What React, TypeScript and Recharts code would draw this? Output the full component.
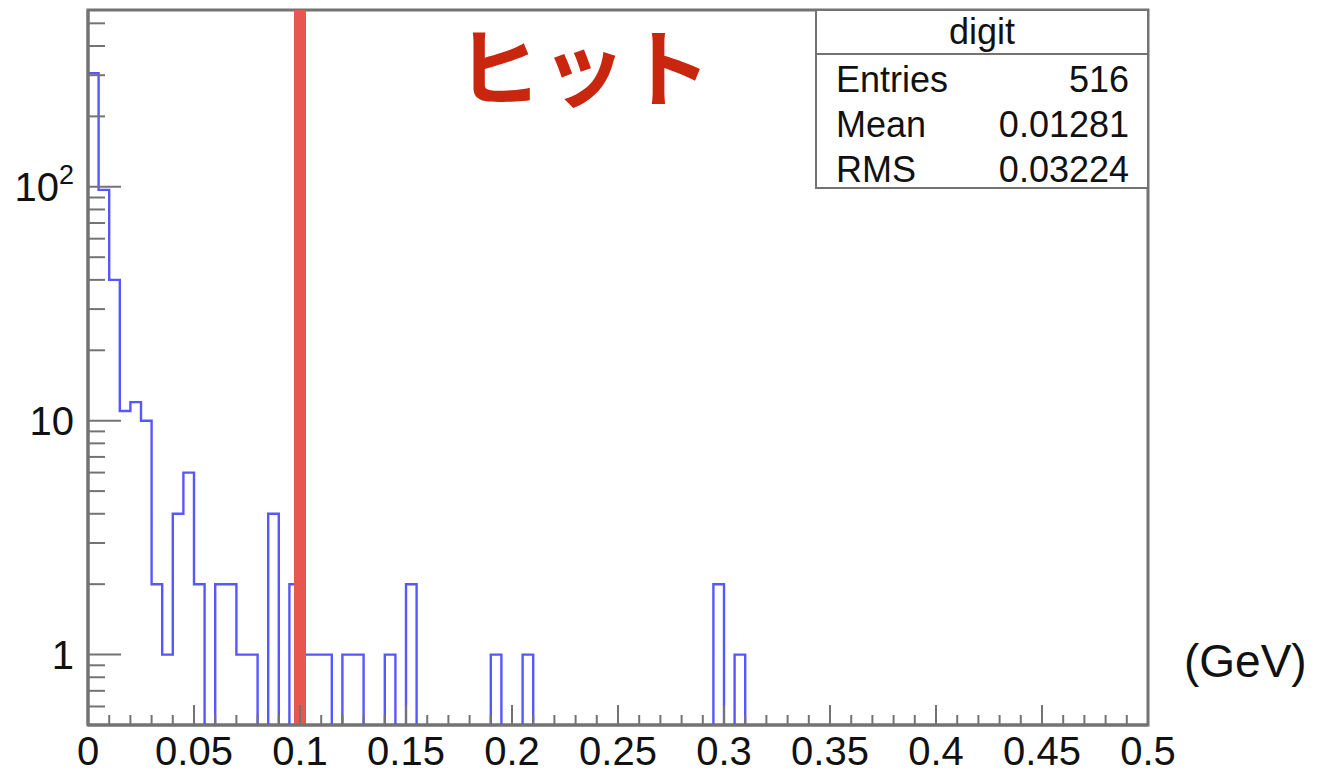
import React from 'react';
import {
  ComposedChart,
  Line,
  XAxis,
  YAxis,
  ReferenceLine,
  ReferenceArea
} from 'recharts';

// histogram "digit": 0.005 GeV bins starting at 0, counts
const BIN_WIDTH = 0.005;
const binCounts = [
  306, 97, 40, 11, 12, 10, 2, 1, 4, 6,
  2, 0, 2, 2, 1, 1, 0, 4, 0, 2,
  1, 1, 1, 0, 1, 1, 0, 0, 1, 0,
  2, 0, 0, 0, 0, 0, 0, 0, 1, 0,
  0, 1, 0, 0, 0, 0, 0, 0, 0, 0,
  0, 0, 0, 0, 0, 0, 0, 0, 0, 2,
  0, 1
];

const xTickLabels = ['0', '0.05', '0.1', '0.15', '0.2', '0.25', '0.3', '0.35', '0.4', '0.45', '0.5'];
const xMajorTicks = [0, 0.05, 0.1, 0.15, 0.2, 0.25, 0.3, 0.35, 0.4, 0.45, 0.5];
const yMajorTicks = [1, 10, 100];
const yMinorTicks = [
  0.6, 0.7, 0.8, 0.9,
  2, 3, 4, 5, 6, 7, 8, 9,
  20, 30, 40, 50, 60, 70, 80, 90,
  200, 300, 400, 500
];

const statsTitle = 'digit';
const statsRows = [
  { label: 'Entries', value: '516' },
  { label: 'Mean', value: '0.01281' },
  { label: 'RMS', value: '0.03224' }
];

const HIT_CUT = 0.1; // red hand-drawn cut line
const HIT_LABEL = 'ヒット';
const X_UNIT = '(GeV)';

const Y_MIN = 0.5;
const Y_MAX = 570;
const BELOW_FLOOR = 0.3; // empty bins get drawn below the frame and clipped

const AXIS_GRAY = '#737373';
const FONT = '"Liberation Sans", Arial, Helvetica, sans-serif';

const plotData = [
  ...binCounts.map((c, i) => ({ x: i * BIN_WIDTH, y: c > 0 ? c : BELOW_FLOOR })),
  { x: binCounts.length * BIN_WIDTH, y: BELOW_FLOOR }
];

// every 0.01 tick, majors every 0.05
const xTicks = Array.from({ length: 51 }, (_, i) => i / 100);
const yTicks = [...yMajorTicks, ...yMinorTicks].sort((a, b) => a - b);

const XTick = (props: any) => {
  const { x, y, payload } = props;
  const v = payload.value;
  const majorIdx = xMajorTicks.findIndex(m => Math.abs(m - v) < 1e-9);
  const major = majorIdx >= 0;
  return (
    <g>
      <line x1={x} x2={x} y1={y} y2={y - (major ? 20 : 10)} stroke={AXIS_GRAY} strokeWidth={2} />
      {major && (
        <text x={x} y={y + 40} textAnchor="middle" fontSize={40} fill="#111" fontFamily={FONT}>
          {xTickLabels[majorIdx]}
        </text>
      )}
    </g>
  );
};

const YTick = (props: any) => {
  const { x, y, payload } = props;
  const v = payload.value;
  const major = yMajorTicks.includes(v);
  return (
    <g>
      <line x1={x} x2={x + (major ? 33 : 17)} y1={y} y2={y} stroke={AXIS_GRAY} strokeWidth={2} />
      {major && (
        <text x={x - 14} y={y + 14} textAnchor="end" fontSize={40} fill="#111" fontFamily={FONT}>
          {v === 100 ? (
            <>
              10
              <tspan fontSize={27} dy={-17}>2</tspan>
            </>
          ) : (
            String(v)
          )}
        </text>
      )}
    </g>
  );
};

export default function App() {
  return (
    <div style={{ position: 'absolute', left: 0, top: 0, width: 1317, height: 774, background: '#fff', fontFamily: FONT }}>
      <ComposedChart
        width={1317}
        height={774}
        data={plotData}
        margin={{ top: 10, right: 169, bottom: 0, left: 0 }}
      >
        <XAxis
          type="number"
          dataKey="x"
          domain={[0, 0.5]}
          allowDataOverflow
          ticks={xTicks}
          interval={0}
          tick={<XTick />}
          tickLine={false}
          tickSize={0}
          tickMargin={0}
          height={49}
          axisLine={{ stroke: AXIS_GRAY, strokeWidth: 3 }}
        />
        <YAxis
          type="number"
          scale="log"
          domain={[Y_MIN, Y_MAX]}
          allowDataOverflow
          ticks={yTicks}
          interval={0}
          tick={<YTick />}
          tickLine={false}
          tickSize={0}
          tickMargin={0}
          width={88}
          axisLine={{ stroke: AXIS_GRAY, strokeWidth: 3 }}
        />
        <Line
          type="stepAfter"
          dataKey="y"
          stroke="#3a3aff"
          strokeOpacity={0.85}
          strokeWidth={2.4}
          dot={false}
          activeDot={false}
          isAnimationActive={false}
        />
        <ReferenceLine x={HIT_CUT} stroke="#e8574f" strokeWidth={12} />
        <ReferenceArea
          x1={0}
          x2={0.5}
          y1={Y_MIN}
          y2={Y_MAX}
          fill="none"
          fillOpacity={0}
          stroke={AXIS_GRAY}
          strokeWidth={3}
        />
      </ComposedChart>

      {/* stats box */}
      <div
        style={{
          position: 'absolute',
          left: 815,
          top: 9,
          width: 330,
          height: 176,
          border: `2px solid ${AXIS_GRAY}`,
          background: '#fff',
          color: '#111',
          fontSize: 36
        }}
      >
        <div style={{ height: 42, lineHeight: '42px', textAlign: 'center', borderBottom: `2px solid ${AXIS_GRAY}` }}>
          {statsTitle}
        </div>
        <div style={{ paddingTop: 2 }}>
          {statsRows.map(r => (
            <div
              key={r.label}
              style={{ display: 'flex', justifyContent: 'space-between', height: 45, lineHeight: '45px', padding: '0 18px 0 19px' }}
            >
              <span>{r.label}</span>
              <span>{r.value}</span>
            </div>
          ))}
        </div>
      </div>

      <div
        style={{
          position: 'absolute',
          left: 456,
          top: 20,
          width: 255,
          textAlign: 'center',
          fontFamily: '"Noto Sans CJK JP", sans-serif',
          fontWeight: 700,
          fontSize: 85,
          lineHeight: '85px',
          color: '#c9260f'
        }}
      >
        {HIT_LABEL}
      </div>

      <div
        style={{
          position: 'absolute',
          left: 1184,
          top: 637,
          fontSize: 46,
          lineHeight: '48px',
          color: '#111',
          fontWeight: 300
        }}
      >
        {X_UNIT}
      </div>
    </div>
  );
}
